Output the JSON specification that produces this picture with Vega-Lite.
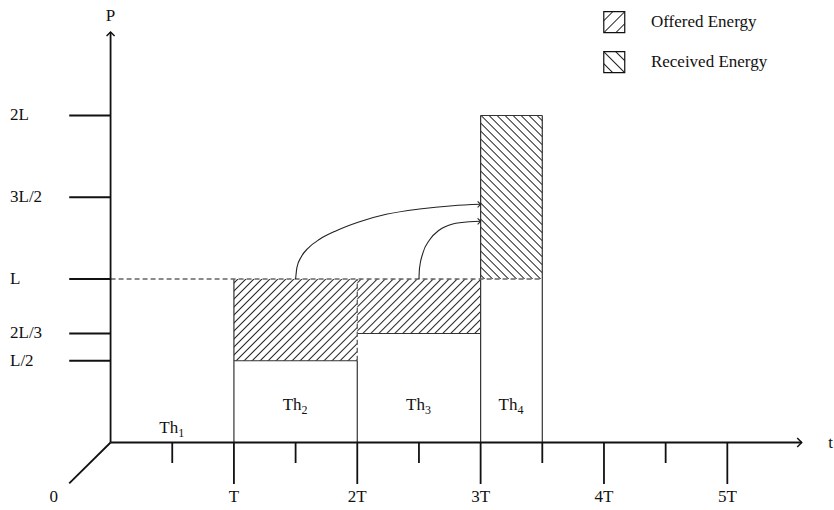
{
  "$schema": "https://vega.github.io/schema/vega-lite/v6.json",
  "width": 834,
  "height": 510,
  "autosize": {"type": "fit", "contains": "padding"},
  "padding": 0,
  "background": "white",
  "config": {"view": {"stroke": null}, "text": {"font": "Liberation Serif", "fontSize": 17, "color": "#111"}},
  "params": [
    {"name": "hs", "value": [
      {"offset": 0.01121, "color": "#fff"}, {"offset": 0.01724, "color": "#222"}, {"offset": 0.02328, "color": "#fff"},
      {"offset": 0.04569, "color": "#fff"}, {"offset": 0.05172, "color": "#222"}, {"offset": 0.05776, "color": "#fff"},
      {"offset": 0.08017, "color": "#fff"}, {"offset": 0.08621, "color": "#222"}, {"offset": 0.09224, "color": "#fff"},
      {"offset": 0.11466, "color": "#fff"}, {"offset": 0.12069, "color": "#222"}, {"offset": 0.12672, "color": "#fff"},
      {"offset": 0.14914, "color": "#fff"}, {"offset": 0.15517, "color": "#222"}, {"offset": 0.16121, "color": "#fff"},
      {"offset": 0.18362, "color": "#fff"}, {"offset": 0.18966, "color": "#222"}, {"offset": 0.19569, "color": "#fff"},
      {"offset": 0.2181, "color": "#fff"}, {"offset": 0.22414, "color": "#222"}, {"offset": 0.23017, "color": "#fff"},
      {"offset": 0.25259, "color": "#fff"}, {"offset": 0.25862, "color": "#222"}, {"offset": 0.26466, "color": "#fff"},
      {"offset": 0.28707, "color": "#fff"}, {"offset": 0.2931, "color": "#222"}, {"offset": 0.29914, "color": "#fff"},
      {"offset": 0.32155, "color": "#fff"}, {"offset": 0.32759, "color": "#222"}, {"offset": 0.33362, "color": "#fff"},
      {"offset": 0.35603, "color": "#fff"}, {"offset": 0.36207, "color": "#222"}, {"offset": 0.3681, "color": "#fff"},
      {"offset": 0.39052, "color": "#fff"}, {"offset": 0.39655, "color": "#222"}, {"offset": 0.40259, "color": "#fff"},
      {"offset": 0.425, "color": "#fff"}, {"offset": 0.43103, "color": "#222"}, {"offset": 0.43707, "color": "#fff"},
      {"offset": 0.45948, "color": "#fff"}, {"offset": 0.46552, "color": "#222"}, {"offset": 0.47155, "color": "#fff"},
      {"offset": 0.49397, "color": "#fff"}, {"offset": 0.5, "color": "#222"}, {"offset": 0.50603, "color": "#fff"},
      {"offset": 0.52845, "color": "#fff"}, {"offset": 0.53448, "color": "#222"}, {"offset": 0.54052, "color": "#fff"},
      {"offset": 0.56293, "color": "#fff"}, {"offset": 0.56897, "color": "#222"}, {"offset": 0.575, "color": "#fff"},
      {"offset": 0.59741, "color": "#fff"}, {"offset": 0.60345, "color": "#222"}, {"offset": 0.60948, "color": "#fff"},
      {"offset": 0.6319, "color": "#fff"}, {"offset": 0.63793, "color": "#222"}, {"offset": 0.64397, "color": "#fff"},
      {"offset": 0.66638, "color": "#fff"}, {"offset": 0.67241, "color": "#222"}, {"offset": 0.67845, "color": "#fff"},
      {"offset": 0.70086, "color": "#fff"}, {"offset": 0.7069, "color": "#222"}, {"offset": 0.71293, "color": "#fff"},
      {"offset": 0.73534, "color": "#fff"}, {"offset": 0.74138, "color": "#222"}, {"offset": 0.74741, "color": "#fff"},
      {"offset": 0.76983, "color": "#fff"}, {"offset": 0.77586, "color": "#222"}, {"offset": 0.7819, "color": "#fff"},
      {"offset": 0.80431, "color": "#fff"}, {"offset": 0.81034, "color": "#222"}, {"offset": 0.81638, "color": "#fff"},
      {"offset": 0.83879, "color": "#fff"}, {"offset": 0.84483, "color": "#222"}, {"offset": 0.85086, "color": "#fff"},
      {"offset": 0.87328, "color": "#fff"}, {"offset": 0.87931, "color": "#222"}, {"offset": 0.88534, "color": "#fff"},
      {"offset": 0.90776, "color": "#fff"}, {"offset": 0.91379, "color": "#222"}, {"offset": 0.91983, "color": "#fff"},
      {"offset": 0.94224, "color": "#fff"}, {"offset": 0.94828, "color": "#222"}, {"offset": 0.95431, "color": "#fff"},
      {"offset": 0.97672, "color": "#fff"}, {"offset": 0.98276, "color": "#222"}, {"offset": 0.98879, "color": "#fff"}
    ]}
  ],
  "encoding": {
    "x": {"field": "x", "type": "quantitative", "scale": {"domain": [-0.8964, 5.8567], "nice": false, "zero": false}, "axis": null},
    "y": {"field": "y", "type": "quantitative", "scale": {"domain": [-0.4128, 2.7064], "nice": false, "zero": false}, "axis": null}
  },
  "layer": [
    {
      "data": {"values": [{"x": 1, "x2": 2, "y": 0.5, "y2": 1}]},
      "mark": {"type": "rect", "stroke": null, "fill": {"expr": "{gradient: 'linear', x1: 0, y1: 0, x2: 1.3062, y2: 0.86463, stops: hs}"}},
      "encoding": {"x2": {"field": "x2"}, "y2": {"field": "y2"}}
    },
    {
      "data": {"values": [{"x": 2, "x2": 3, "y": 0.6667, "y2": 1}]},
      "mark": {"type": "rect", "stroke": null, "fill": {"expr": "{gradient: 'linear', x1: 0, y1: 0, x2: 1.57234, y2: 0.69387, stops: hs}"}},
      "encoding": {"x2": {"field": "x2"}, "y2": {"field": "y2"}}
    },
    {
      "data": {"values": [{"x": 3, "x2": 3.5, "y": 1, "y2": 2}]},
      "mark": {"type": "rect", "stroke": null, "fill": {"expr": "{gradient: 'linear', x1: 0, y1: 1, x2: 0.46901, y2: -0.24183, stops: hs}"}},
      "encoding": {"x2": {"field": "x2"}, "y2": {"field": "y2"}}
    },
    {
      "data": {"values": [{"x": 3.9984, "x2": 4.1684, "y": 2.5064, "y2": 2.6349}]},
      "mark": {"type": "rect", "stroke": "#111", "strokeWidth": 1.2, "fill": {"gradient": "linear", "x1": 0, "y1": 0, "x2": 1, "y2": 1, "stops": [
        {"offset": 0.18095, "color": "#fff"}, {"offset": 0.21429, "color": "#222"}, {"offset": 0.24762, "color": "#fff"},
        {"offset": 0.46667, "color": "#fff"}, {"offset": 0.5, "color": "#222"}, {"offset": 0.53333, "color": "#fff"},
        {"offset": 0.75238, "color": "#fff"}, {"offset": 0.78571, "color": "#222"}, {"offset": 0.81905, "color": "#fff"}
      ]}},
      "encoding": {"x2": {"field": "x2"}, "y2": {"field": "y2"}}
    },
    {
      "data": {"values": [{"x": 3.9984, "x2": 4.1684, "y": 2.2618, "y2": 2.3902}]},
      "mark": {"type": "rect", "stroke": "#111", "strokeWidth": 1.2, "fill": {"gradient": "linear", "x1": 0, "y1": 1, "x2": 1, "y2": 0, "stops": [
        {"offset": 0.18095, "color": "#fff"}, {"offset": 0.21429, "color": "#222"}, {"offset": 0.24762, "color": "#fff"},
        {"offset": 0.46667, "color": "#fff"}, {"offset": 0.5, "color": "#222"}, {"offset": 0.53333, "color": "#fff"},
        {"offset": 0.75238, "color": "#fff"}, {"offset": 0.78571, "color": "#222"}, {"offset": 0.81905, "color": "#fff"}
      ]}},
      "encoding": {"x2": {"field": "x2"}, "y2": {"field": "y2"}}
    },
    {
      "data": {"values": [
        {"x": 1, "x2": 1, "y": 0, "y2": 1},
        {"x": 2, "x2": 2, "y": 0, "y2": 0.5},
        {"x": 3, "x2": 3, "y": 0, "y2": 2},
        {"x": 3.5, "x2": 3.5, "y": 0, "y2": 2},
        {"x": 3, "x2": 3.5, "y": 2, "y2": 2},
        {"x": 1, "x2": 2, "y": 0.5, "y2": 0.5},
        {"x": 2, "x2": 3, "y": 0.6667, "y2": 0.6667}
      ]},
      "mark": {"type": "rule", "stroke": "#333", "strokeWidth": 1.2},
      "encoding": {"x2": {"field": "x2"}, "y2": {"field": "y2"}}
    },
    {
      "data": {"values": [
        {"x": 0, "x2": 3.5, "y": 1, "y2": 1},
        {"x": 2, "x2": 2, "y": 0.5, "y2": 1}
      ]},
      "mark": {"type": "rule", "stroke": "#666", "strokeWidth": 1.4, "strokeDash": [5, 3]},
      "encoding": {"x2": {"field": "x2"}, "y2": {"field": "y2"}}
    },
    {
      "data": {"values": [
        {"x": 0, "x2": 0, "y": 0, "y2": 2.5107},
        {"x": 0, "x2": 5.603, "y": 0, "y2": 0},
        {"x": 0, "x2": -0.3352, "y": 0, "y2": -0.2495},
        {"x": -0.3352, "x2": 0, "y": 0.5, "y2": 0.5},
        {"x": -0.3352, "x2": 0, "y": 0.6667, "y2": 0.6667},
        {"x": -0.3352, "x2": 0, "y": 1, "y2": 1},
        {"x": -0.3352, "x2": 0, "y": 1.5, "y2": 1.5},
        {"x": -0.3352, "x2": 0, "y": 2, "y2": 2},
        {"x": 1, "x2": 1, "y": 0, "y2": -0.2538},
        {"x": 2, "x2": 2, "y": 0, "y2": -0.2538},
        {"x": 3, "x2": 3, "y": 0, "y2": -0.2538},
        {"x": 4, "x2": 4, "y": 0, "y2": -0.2538},
        {"x": 5, "x2": 5, "y": 0, "y2": -0.2538},
        {"x": 0.5, "x2": 0.5, "y": 0, "y2": -0.1254},
        {"x": 1.5, "x2": 1.5, "y": 0, "y2": -0.1254},
        {"x": 2.5, "x2": 2.5, "y": 0, "y2": -0.1254},
        {"x": 3.5, "x2": 3.5, "y": 0, "y2": -0.1254},
        {"x": 4.5, "x2": 4.5, "y": 0, "y2": -0.1254}
      ]},
      "mark": {"type": "rule", "stroke": "#111", "strokeWidth": 1.8},
      "encoding": {"x2": {"field": "x2"}, "y2": {"field": "y2"}}
    },
    {
      "data": {"values": [
        {"c": "a", "x": 1.5, "y": 1.0},
        {"c": "a", "x": 1.5109, "y": 1.0716},
        {"c": "a", "x": 1.5466, "y": 1.1364},
        {"c": "a", "x": 1.6, "y": 1.1878},
        {"c": "a", "x": 1.6947, "y": 1.2428},
        {"c": "a", "x": 1.83, "y": 1.2954},
        {"c": "a", "x": 2.0186, "y": 1.3505},
        {"c": "a", "x": 2.2348, "y": 1.3957},
        {"c": "a", "x": 2.5045, "y": 1.4281},
        {"c": "a", "x": 2.7741, "y": 1.4483},
        {"c": "a", "x": 3.0, "y": 1.4569},
        {"c": "b", "x": 2.5, "y": 1.0},
        {"c": "b", "x": 2.5045, "y": 1.0654},
        {"c": "b", "x": 2.5312, "y": 1.1572},
        {"c": "b", "x": 2.5854, "y": 1.2385},
        {"c": "b", "x": 2.666, "y": 1.2997},
        {"c": "b", "x": 2.7741, "y": 1.3364},
        {"c": "b", "x": 2.9109, "y": 1.3505},
        {"c": "b", "x": 3.0, "y": 1.3529}
      ]},
      "mark": {"type": "line", "interpolate": "monotone", "stroke": "#222", "strokeWidth": 1.1},
      "encoding": {"detail": {"field": "c"}}
    },
    {
      "data": {"values": [{"x": 0, "y": 2.5107}]},
      "mark": {"type": "point", "shape": "M-1,1L0,0L1,1", "size": 64, "filled": false, "stroke": "#111", "strokeWidth": 1.5, "opacity": 1},
      "encoding": {}
    },
    {
      "data": {"values": [{"x": 5.603, "y": 0}]},
      "mark": {"type": "point", "shape": "M-1,-1L0,0L-1,1", "size": 81, "filled": false, "stroke": "#111", "strokeWidth": 1.5, "opacity": 1},
      "encoding": {}
    },
    {
      "data": {"values": [{"x": 3.0, "y": 1.4569}, {"x": 3.0, "y": 1.3529}]},
      "mark": {"type": "point", "shape": "M-1,-1L0,0L-1,1", "size": 36, "filled": false, "stroke": "#222", "strokeWidth": 1.1, "opacity": 1},
      "encoding": {}
    },
    {
      "data": {"values": [
        {"x": 0, "y": 2.6086, "label": "P"},
        {"x": 5.838, "y": 0, "label": "t"},
        {"x": -0.46, "y": -0.3333, "label": "0"},
        {"x": 1, "y": -0.3333, "label": "T"},
        {"x": 2, "y": -0.3333, "label": "2T"},
        {"x": 3, "y": -0.3333, "label": "3T"},
        {"x": 4, "y": -0.3333, "label": "4T"},
        {"x": 5, "y": -0.3333, "label": "5T"}
      ]},
      "mark": {"type": "text", "align": "center", "baseline": "middle"},
      "encoding": {"text": {"field": "label"}}
    },
    {
      "data": {"values": [
        {"x": 0.5, "y": 0.0887, "label": "Th", "sub": "1"},
        {"x": 1.5, "y": 0.2294, "label": "Th", "sub": "2"},
        {"x": 2.5, "y": 0.2294, "label": "Th", "sub": "3"},
        {"x": 3.25, "y": 0.2294, "label": "Th", "sub": "4"}
      ]},
      "layer": [
        {"mark": {"type": "text", "align": "right", "baseline": "middle", "dx": 6}, "encoding": {"text": {"field": "label"}}},
        {"mark": {"type": "text", "align": "left", "baseline": "middle", "dx": 6, "dy": 5, "fontSize": 12}, "encoding": {"text": {"field": "sub"}}}
      ]
    },
    {
      "data": {"values": [
        {"x": -0.8154, "y": 2, "label": "2L"},
        {"x": -0.8154, "y": 1.5, "label": "3L/2"},
        {"x": -0.8154, "y": 1, "label": "L"},
        {"x": -0.8154, "y": 0.6667, "label": "2L/3"},
        {"x": -0.8154, "y": 0.5, "label": "L/2"},
        {"x": 4.3806, "y": 2.5719, "label": "Offered Energy"},
        {"x": 4.3806, "y": 2.3272, "label": "Received Energy"}
      ]},
      "mark": {"type": "text", "align": "left", "baseline": "middle"},
      "encoding": {"text": {"field": "label"}}
    }
  ]
}
